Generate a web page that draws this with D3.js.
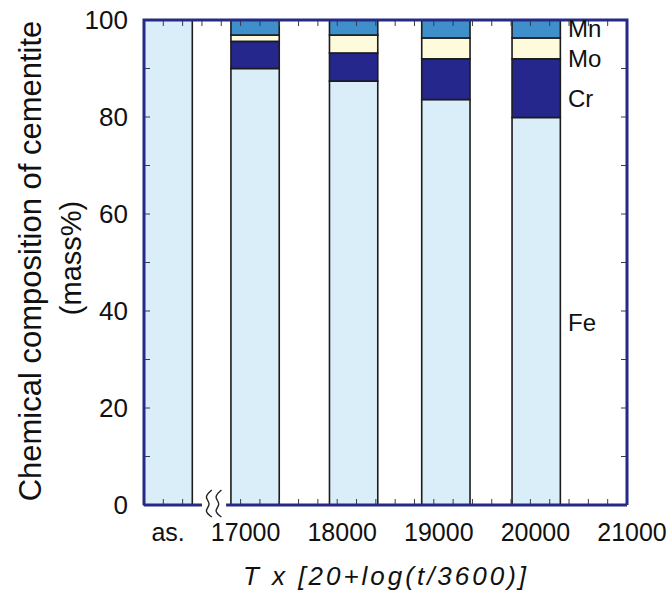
<!DOCTYPE html>
<html>
<head>
<meta charset="utf-8">
<script src="https://cdn.jsdelivr.net/npm/d3@7"></script>
<style>
  html, body { margin: 0; padding: 0; background: #fff; }
  svg { display: block; }
  text { font-family: "Liberation Sans", Arial, sans-serif; fill: #111; }
</style>
</head>
<body>
<svg id="chart" width="672" height="595"></svg>
<script>
// Sample positions on the Larson-Miller axis (bar centres); the first is the as-received state
const samples = ["as.", "P1", "P2", "P3", "P4"];
const lmp = [16250, 17150, 18170, 19125, 20060];
const barWidth = 500;

// Cementite composition, mass%
const fe = [100, 90.0, 87.4, 83.6, 79.9];
const cr = [0, 5.6, 5.8, 8.4, 12.1];
const mo = [0, 1.3, 3.7, 4.3, 4.3];
const mn = [0, 3.1, 3.1, 3.7, 3.7];
const elements = ["Fe", "Cr", "Mo", "Mn"];

// Axis labels
const xTickValues = [16250, 17000, 18000, 19000, 20000, 21000];
const xTickLabels = ["as.", "17000", "18000", "19000", "20000", "21000"];
const yTickValues = [0, 20, 40, 60, 80, 100];

const colors = { Fe: "#d9eef9", Cr: "#25278c", Mo: "#fdfbdc", Mn: "#3f8fca" };
const frameColor = "#252a88";

const svg = d3.select("#chart");
const x = d3.scaleLinear().domain([16000, 21000]).range([144, 627]);
const y = d3.scaleLinear().domain([0, 100]).range([505, 20]);

const rows = samples.map((s, i) => ({ sample: s, pos: lmp[i], Fe: fe[i], Cr: cr[i], Mo: mo[i], Mn: mn[i] }));
const stack = d3.stack().keys(elements)(rows);

// Stacked bars
const barW = x(16000 + barWidth) - x(16000);
svg.append("g").selectAll("g").data(stack).join("g")
  .attr("fill", d => colors[d.key])
  .selectAll("rect").data(d => d.filter(s => s[1] - s[0] > 0)).join("rect")
  .attr("x", d => x(d.data.pos) - barW / 2)
  .attr("width", barW)
  .attr("y", d => y(d[1]))
  .attr("height", d => y(d[0]) - y(d[1]))
  .attr("stroke", "#1c1c1c")
  .attr("stroke-width", 1.6);

// Minor ticks (inward) on all four sides
const ticks = svg.append("g").attr("stroke", "#3a3a4a").attr("stroke-width", 1);
const xMinor = d3.range(16200, 21000, 200);
ticks.selectAll(".tt").data(xMinor).join("line")
  .attr("x1", d => x(d)).attr("x2", d => x(d)).attr("y1", y(100)).attr("y2", y(100) + 6);
ticks.selectAll(".tb").data(xMinor.filter(d => d < 16600 || d > 16850)).join("line")
  .attr("x1", d => x(d)).attr("x2", d => x(d)).attr("y1", y(0)).attr("y2", y(0) - 6);
const yMinor = d3.range(10, 100, 10);
ticks.selectAll(".tl").data(yMinor).join("line")
  .attr("x1", x(16000)).attr("x2", x(16000) + 6).attr("y1", d => y(d)).attr("y2", d => y(d));
ticks.selectAll(".tr").data(yMinor).join("line")
  .attr("x1", x(21000)).attr("x2", x(21000) - 6).attr("y1", d => y(d)).attr("y2", d => y(d));

// Frame, with a gap in the bottom axis for the break mark
const frame = svg.append("g").attr("stroke", frameColor).attr("stroke-width", 3).attr("fill", "none");
frame.append("path").attr("d", `M${x(16000)},${y(0)} V${y(100)} H${x(21000)} V${y(0)}`);
frame.append("line").attr("x1", x(16000)).attr("x2", x(16600)).attr("y1", y(0)).attr("y2", y(0));
frame.append("line").attr("x1", x(16850)).attr("x2", x(21000)).attr("y1", y(0)).attr("y2", y(0));

// Axis break mark
const wave = d3.line().curve(d3.curveBasis);
[16660, 16760].forEach(v => {
  const cx = x(v), cy = y(0);
  svg.append("path")
    .attr("d", wave([[cx + 4, cy - 15], [cx - 4, cy - 8], [cx + 4, cy - 1], [cx - 4, cy + 6], [cx + 4, cy + 12]]))
    .attr("fill", "none").attr("stroke", "#222").attr("stroke-width", 1.4);
});

// Tick labels
svg.append("g").selectAll("text").data(yTickValues).join("text")
  .attr("x", 128).attr("y", d => y(d)).attr("dy", "0.36em")
  .attr("text-anchor", "end").attr("font-size", 26).text(d => d);

svg.append("g").selectAll("text").data(xTickValues).join("text")
  .attr("x", (d, i) => x(d) + (i === 0 ? 0 : 5)).attr("y", 541)
  .attr("text-anchor", "middle").attr("font-size", 25).text((d, i) => xTickLabels[i]);

// Element labels beside the last bar
const labelY = { Mn: 37, Mo: 67, Cr: 107, Fe: 331 };
svg.append("g").selectAll("text").data(["Mn", "Mo", "Cr", "Fe"]).join("text")
  .attr("x", 568).attr("y", d => labelY[d]).attr("font-size", 24).text(d => d);

// Axis titles
svg.append("text")
  .attr("transform", "translate(41,261) rotate(-90)")
  .attr("text-anchor", "middle").attr("font-size", 31)
  .text("Chemical composition of cementite");
svg.append("text")
  .attr("transform", "translate(81,258) rotate(-90)")
  .attr("text-anchor", "middle").attr("font-size", 29)
  .text("(mass%)");
svg.append("text")
  .attr("x", 386).attr("y", 585)
  .attr("text-anchor", "middle").attr("font-size", 26).attr("font-style", "italic")
  .attr("letter-spacing", 3)
  .text("T x [20+log(t/3600)]");
</script>
</body>
</html>
